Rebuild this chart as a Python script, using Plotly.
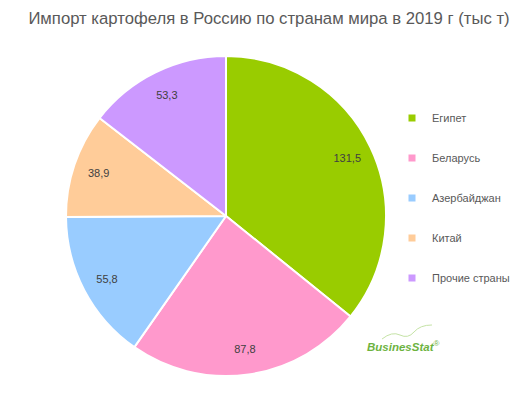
import plotly.graph_objects as go

categories = ["Египет", "Беларусь", "Азербайджан", "Китай", "Прочие страны"]
values = [131.5, 87.8, 55.8, 38.9, 53.3]
value_labels = ["131,5", "87,8", "55,8", "38,9", "53,3"]
colors = ["#99CC00", "#FF99CC", "#99CCFF", "#FFCC99", "#CC99FF"]

W, H = 527, 396
dom = dict(x=[66/W, 386/W], y=[20/H, 340/H])

fig = go.Figure()
# colored pie
fig.add_trace(go.Pie(
    labels=categories, values=values,
    textinfo="none",
    sort=False, direction="clockwise", rotation=0,
    marker=dict(colors=colors, line=dict(color="white", width=2)),
    domain=dom, showlegend=False, hoverinfo="label+value",
))
# transparent ring used only to place value labels near the outer edge
fig.add_trace(go.Pie(
    labels=categories, values=values, text=value_labels, hole=0.68,
    textinfo="text", textposition="inside", insidetextorientation="horizontal",
    sort=False, direction="clockwise", rotation=0,
    marker=dict(colors=["rgba(0,0,0,0)"] * len(values), line=dict(width=0)),
    textfont=dict(family="Liberation Sans", size=11, color="#404040"),
    domain=dom, showlegend=False, hoverinfo="skip",
))
for i, (c, col) in enumerate(zip(categories, colors)):
    fig.add_trace(go.Scatter(
        x=[None], y=[None], mode="markers", name=c, legendgroup=f"g{i}",
        marker=dict(symbol="square", size=7, color=col), showlegend=True,
    ))

def px(x, y):
    return f"{x/W:.4f},{1 - y/H:.4f}"

swoosh = ("M " + px(382, 339) + " Q " + px(392, 331) + " " + px(400, 335)
          + " T " + px(414, 332) + " T " + px(432, 325))

fig.update_layout(
    width=W, height=H,
    margin=dict(l=0, r=0, t=0, b=0, autoexpand=False),
    paper_bgcolor="white", plot_bgcolor="white",
    xaxis=dict(visible=False), yaxis=dict(visible=False),
    title=dict(text="Импорт картофеля в Россию по странам мира в 2019 г (тыс т)",
               x=269/W, xanchor="center", y=1 - 18/H, yanchor="middle",
               font=dict(family="Liberation Sans", size=16.7, color="#595959")),
    legend=dict(x=392/W, xanchor="left", y=1 - 198/H, yanchor="middle",
                traceorder="grouped", tracegroupgap=21,
                font=dict(family="Liberation Sans", size=11, color="#595959")),
    annotations=[dict(text="<b><i>BusinesStat</i></b><sup>®</sup>", x=403/W, y=1 - 346/H,
                      xref="paper", yref="paper", xanchor="center", yanchor="middle",
                      showarrow=False,
                      font=dict(family="Liberation Sans", size=11.5, color="#6DB33F"))],
    shapes=[dict(type="path", path=swoosh, xref="paper", yref="paper",
                 line=dict(color="#C5E3A6", width=1))],
)
fig.write_html("out.html", config={"displayModeBar": False},
               post_script="document.body.style.margin='0';")
